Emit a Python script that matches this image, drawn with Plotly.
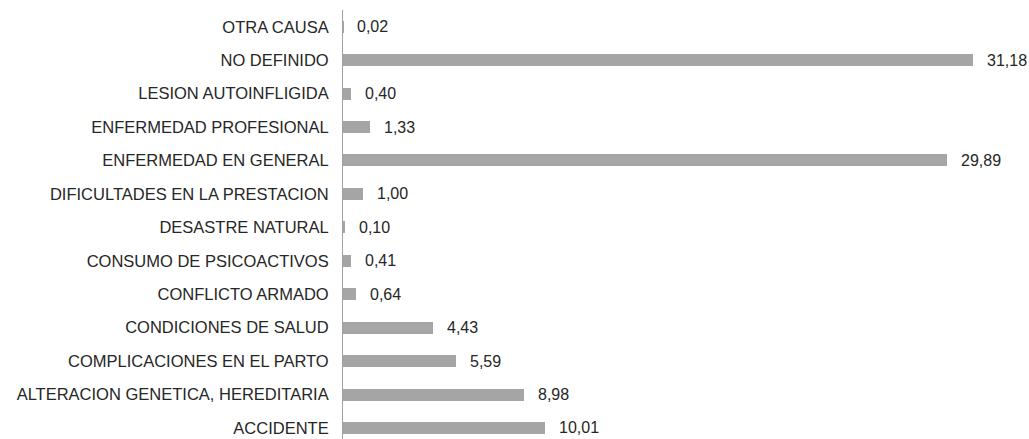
import plotly.graph_objects as go

categories = [
    "ACCIDENTE",
    "ALTERACION GENETICA, HEREDITARIA",
    "COMPLICACIONES EN EL PARTO",
    "CONDICIONES DE SALUD",
    "CONFLICTO ARMADO",
    "CONSUMO DE PSICOACTIVOS",
    "DESASTRE NATURAL",
    "DIFICULTADES EN LA PRESTACION",
    "ENFERMEDAD EN GENERAL",
    "ENFERMEDAD PROFESIONAL",
    "LESION AUTOINFLIGIDA",
    "NO DEFINIDO",
    "OTRA CAUSA",
]
values = [10.01, 8.98, 5.59, 4.43, 0.64, 0.41, 0.10, 1.00, 29.89, 1.33, 0.40, 31.18, 0.02]
labels = [f"{v:.2f}".replace(".", ",") for v in values]

FONT = "Liberation Sans, Arial, sans-serif"

fig = go.Figure(
    go.Bar(
        x=values,
        y=categories,
        orientation="h",
        width=0.36,
        marker=dict(color="#a5a5a5", line=dict(width=0)),
        hoverinfo="skip",
    )
)

for c, v, t in zip(categories, values, labels):
    fig.add_annotation(
        x=v, y=c, text=t, showarrow=False, xanchor="left", yanchor="middle",
        xshift=12, font=dict(family=FONT, size=16, color="#262626"),
    )

fig.update_layout(
    width=1029,
    height=439,
    margin=dict(l=343, r=0, t=10, b=0),
    paper_bgcolor="white",
    plot_bgcolor="white",
    showlegend=False,
    font=dict(family=FONT, size=16, color="#262626"),
    bargap=0,
)
fig.update_xaxes(
    range=[0, 33.95], showgrid=False, zeroline=False, showticklabels=False,
    showline=False, fixedrange=True,
)
fig.update_yaxes(
    type="category", categoryorder="array", categoryarray=categories,
    range=[-0.33, 12.5], showgrid=False, zeroline=False,
    showline=True, linecolor="#a0a0a0", linewidth=1,
    ticks="", ticklabelstandoff=10,
    tickfont=dict(family=FONT, size=16.5, color="#262626"),
    fixedrange=True,
)

fig.write_html("out.html")
